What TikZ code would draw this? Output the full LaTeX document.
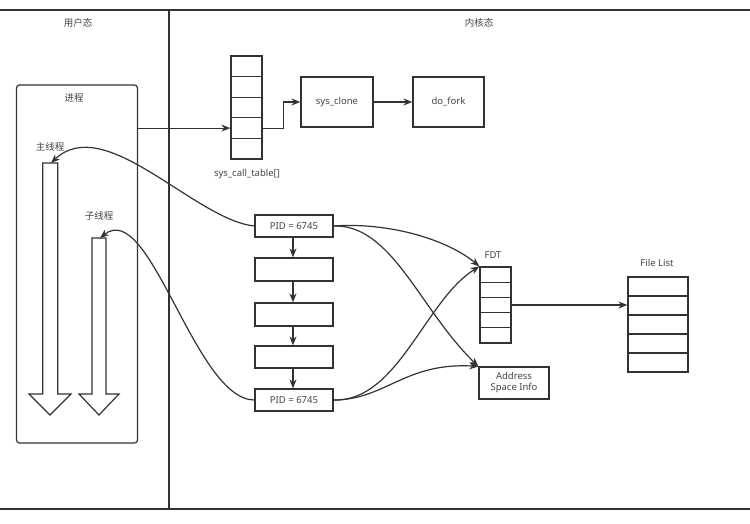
\documentclass[tikz,border=0pt]{standalone}
\usepackage{fontspec}
\setmainfont{Noto Sans}
\newfontfamily\cjk{Noto Sans CJK SC}
\usetikzlibrary{arrows.meta}
\definecolor{lc}{HTML}{333333}
\definecolor{tc}{HTML}{444444}
\begin{document}
\begin{tikzpicture}[x=1pt,y=-1pt,
  line width=1.2pt, draw=lc,
  lbl/.style={text=tc, font=\fontsize{9.5}{11}\selectfont, inner sep=0},
  clbl/.style={text=tc, font=\cjk\fontsize{9.5}{11}\selectfont, inner sep=0},
  box/.style={draw=lc, line width=1.2pt, fill=white, inner sep=0, text=tc, font=\fontsize{9.5}{11}\selectfont},
  cell/.style={draw=lc, line width=1.2pt, fill=white, inner sep=0},
  arr/.style={lc, line width=1.2pt, -{Stealth[length=9pt,width=7pt]}},
  thr/.style={draw=lc, line width=1.2pt, fill=white, line join=miter}
]
\useasboundingbox (0,0) rectangle (750,523);
% frame
\draw[line width=1.6pt, lc] (0,10) -- (750,10);
\draw[line width=1.6pt, lc] (0,509) -- (750,509);
\draw[line width=1.4pt, lc] (169,10) -- (169,509);
\node[clbl] (user) at (78,23) {用户态};
\node[clbl] (kern) at (479,23) {内核态};
% process
\node[draw=lc, line width=1.2pt, rounded corners=3pt, minimum width=121pt, minimum height=358pt, inner sep=0] (proc) at (77,264) {};
\node[clbl] (proclbl) at (74,98) {进程};
\node[clbl] (mainlbl) at (50,147) {主线程};
\node[clbl] (sublbl) at (99,216) {子线程};
\draw[thr] (42.7,163) -- (57.7,163) -- (57.7,394) -- (71,394) -- (50,415) -- (29,394) -- (42.7,394) -- cycle;
\draw[thr] (92,238) -- (106,238) -- (106,394) -- (119,394) -- (99,415) -- (79,394) -- (92,394) -- cycle;
\coordinate (mainTop) at (51,163);
\coordinate (subTop) at (100,238);
% sys_call_table
\foreach \i in {1,...,5} {
  \node[cell, minimum width=31pt, minimum height=20.6pt] (sct\i) at (246.5,{66.3+20.6*(\i-1)}) {};
}
\node[lbl] (sctlbl) at (247,174) {sys\_call\_table[]};
\node[box, minimum width=72pt, minimum height=50pt] (clone) at (337,102) {sys\_clone};
\node[box, minimum width=71pt, minimum height=50pt] (fork) at (448.5,102) {do\_fork};
\draw[arr] (proc.east |- sct4.west) -- (sct4.west);
\draw[arr] (sct4.east) -- ++(21,0) |- (clone.west);
\draw[arr] (clone.east) -- (fork.west);
% task list
\node[box, minimum width=78pt, minimum height=22pt] (pid1) at (294,226) {PID = 6745};
\node[box, minimum width=78pt, minimum height=23pt] (t2) at (294,269.5) {};
\node[box, minimum width=78pt, minimum height=23pt] (t3) at (294,314.5) {};
\node[box, minimum width=78pt, minimum height=22pt] (t4) at (294,357) {};
\node[box, minimum width=78pt, minimum height=22pt] (pid5) at (294,400) {PID = 6745};
\draw[arr] (pid1.south -| 293,0) -- (t2.north -| 293,0);
\draw[arr] (t2.south -| 293,0) -- (t3.north -| 293,0);
\draw[arr] (t3.south -| 293,0) -- (t4.north -| 293,0);
\draw[arr] (t4.south -| 293,0) -- (pid5.north -| 293,0);
% FDT
\foreach \i in {1,...,5} {
  \node[cell, minimum width=31pt, minimum height=15.2pt] (fdt\i) at (495.5,{274.6+15.2*(\i-1)}) {};
}
\node[lbl] (fdtlbl) at (493,255) {FDT};
% address
\node[box, minimum width=70pt, minimum height=32pt, align=center, font=\fontsize{9.5}{11}\selectfont] (addr) at (514,383) {Address\\Space Info};
% file list
\foreach \i in {1,...,5} {
  \node[cell, minimum width=60pt, minimum height=19pt] (fl\i) at (658,{286.5+19*(\i-1)}) {};
}
\node[lbl] (fllbl) at (657,263) {File List};
\draw[arr] (fdt3.east) -- (fl2.west |- fdt3.east);
% curves
\draw[arr] (pid1.east) .. controls (390,222) and (448,240) .. (fdt1.north west);
\draw[arr] (pid1.east) .. controls (392,224) and (420,310) .. (addr.north west);
\draw[arr] (pid5.east) .. controls (398,402) and (425,300) .. (fdt1.north west);
\draw[arr] (pid5.east) .. controls (385,400) and (405,362) .. (addr.north west);
\draw[arr] (pid1.west) .. controls (195,220) and (105,112) .. (mainTop);
\draw[arr] (pid5.west) .. controls (195,400) and (150,198) .. (subTop);
\end{tikzpicture}
\end{document}
